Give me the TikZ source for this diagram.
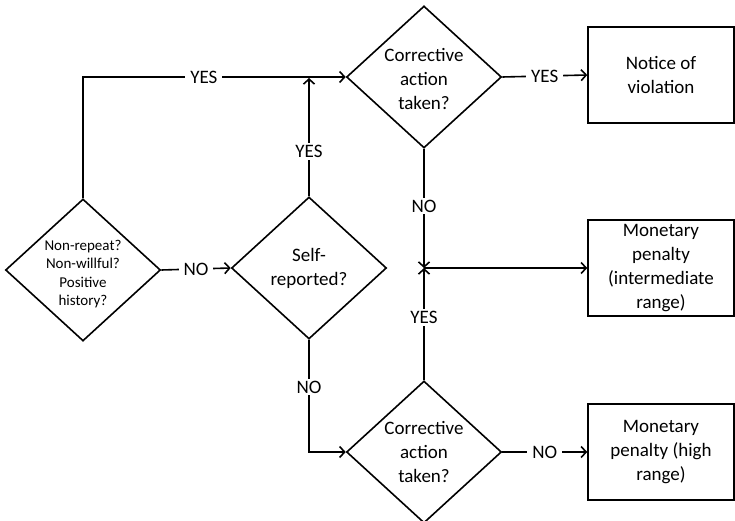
\documentclass[tikz,border=0pt]{standalone}
\usepackage{fontspec}
\setmainfont{Carlito}
\usetikzlibrary{shapes.geometric, arrows.meta, positioning, calc}

\begin{document}
\begin{tikzpicture}[x=1pt, y=-1pt,
    decision/.style={draw, diamond, line width=1.6pt, minimum width=155pt, minimum height=142pt, inner sep=0pt},
    qtext/.style={align=center, inner sep=0pt, font=\fontsize{19}{24}\selectfont},
    qsmall/.style={align=center, inner sep=0pt, font=\fontsize{15}{18.5}\selectfont},
    outcome/.style={draw, rectangle, line width=1.6pt, minimum width=146pt, minimum height=96pt, inner sep=1pt, align=center, font=\fontsize{19}{24}\selectfont},
    flow/.style={line width=1.6pt, -{Straight Barb[length=5pt,width=11pt]}},
    answer/.style={fill=white, inner xsep=5pt, inner ysep=2pt, font=\fontsize{19}{24}\selectfont}]
    \useasboundingbox (0,0) rectangle (735,521);

    % Decisions
    \node[decision] (q1) at (83, 270) {};
    \node[qsmall, yshift=-4pt] (q1txt) at (q1) {Non-repeat?\\Non-willful?\\Positive\\history?};
    \node[decision] (q2) at (309, 268) {};
    \node[qtext] (q2txt) at (q2) {Self-\\reported?};
    \node[decision] (q3) at (424, 77) {};
    \node[qtext, yshift=-2pt] (q3txt) at (q3) {Corrective\\action\\taken?};
    \node[decision] (q4) at (424, 452) {};
    \node[qtext] (q4txt) at (q4) {Corrective\\action\\taken?};

    % Outcomes
    \node[outcome] (out1) at (661, 75) {Notice of\\violation};
    \node[outcome] (out2) at (661, 268) {Monetary\\penalty\\(intermediate\\range)};
    \node[outcome] (out3) at (661, 452) {Monetary\\penalty (high\\range)};

    \coordinate (join) at (424, 268);

    % Connectors
    \draw[flow] (q1.north) |- node[answer, pos=0.73] (yes1) {YES} (q3.west);
    \draw[flow] (q1.east) -- node[answer] (no1) {NO} (q2.west);
    \draw[flow] (q2.north) -- node[answer, pos=0.38] (yes2) {YES} ($(q2.north |- q3.west)+(0,1)$);
    \draw[flow] (q3.east) -- node[answer] (yes3) {YES} (out1.west);
    \draw[flow] (q3.south) -- node[answer, pos=0.48] (no2) {NO} (join);
    \draw[flow] (q4.north) -- node[answer, pos=0.56] (yes4) {YES} (join);
    \draw[flow] (join) -- (out2.west);
    \draw[flow] (q2.south) |- node[answer, pos=0.21] (no3) {NO} (q4.west);
    \draw[flow] (q4.east) -- node[answer] (no4) {NO} (out3.west);

\end{tikzpicture}
\end{document}
